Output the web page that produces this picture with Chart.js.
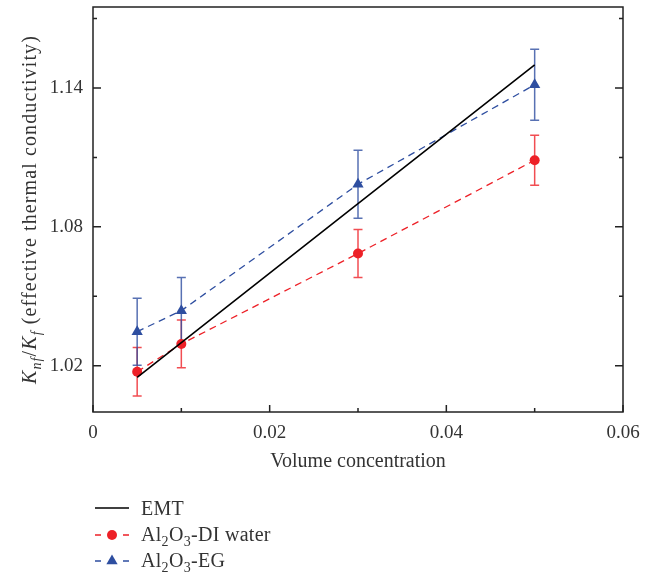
<!DOCTYPE html>
<html>
<head>
<meta charset="utf-8">
<script src="https://cdn.jsdelivr.net/npm/chart.js@4.4.1/dist/chart.umd.min.js"></script>
<style>
  body { margin: 0; background: #fff; }
  canvas { display: block; }
</style>
</head>
<body>
<canvas id="chart" width="655" height="575"></canvas>
<script>
// values
const concentration = [0.005, 0.01, 0.03, 0.05];
const emtValues = [1.015, 1.03, 1.09, 1.15];
const diWaterValues = [1.0174, 1.0294, 1.0685, 1.1088];
const diWaterErr = [0.0105, 0.0103, 0.0104, 0.0108];
const egValues = [1.0347, 1.0438, 1.0984, 1.1414];
const egErr = [0.0145, 0.0143, 0.0147, 0.0153];

const xTickLabels = ['0', '0.02', '0.04', '0.06'];
const yTickLabels = ['1.02', '1.08', '1.14'];
const yMinorTicks = [1.05, 1.11, 1.17];

const FONT = "'Liberation Serif', 'Times New Roman', serif";
const RED = 'rgb(237, 32, 39)';
const BLUE = 'rgb(46, 78, 160)';

function drawRich(ctx, parts, x, y, align, size, spacing) {
    size = size || 20;
    ctx.letterSpacing = (spacing || 0) + 'px';
    const fontOf = p => (p.italic ? 'italic ' : '') + (p.sub ? Math.round(size * 0.72) : size) + 'px ' + FONT;
    let total = 0;
    parts.forEach(p => { ctx.font = fontOf(p); total += ctx.measureText(p.t).width; });
    let cx = align === 'center' ? x - total / 2 : x;
    ctx.textAlign = 'left';
    ctx.textBaseline = 'alphabetic';
    parts.forEach(p => {
        ctx.font = fontOf(p);
        ctx.fillText(p.t, cx, y + (p.sub ? 5 : 0));
        cx += ctx.measureText(p.t).width;
    });
    ctx.letterSpacing = '0px';
}

const errorBars = {
    id: 'errorBars',
    beforeDatasetsDraw(chart) {
        const ctx = chart.ctx;
        const yScale = chart.scales.y;
        chart.data.datasets.forEach((ds, i) => {
            if (!ds.err) return;
            const meta = chart.getDatasetMeta(i);
            ctx.save();
            ctx.strokeStyle = ds.errColor;
            ctx.lineWidth = 1.5;
            meta.data.forEach((pt, j) => {
                const v = ds.data[j].y;
                const top = yScale.getPixelForValue(v + ds.err[j]);
                const bot = yScale.getPixelForValue(v - ds.err[j]);
                ctx.beginPath();
                ctx.moveTo(pt.x, top); ctx.lineTo(pt.x, bot);
                ctx.moveTo(pt.x - 4.5, top); ctx.lineTo(pt.x + 4.5, top);
                ctx.moveTo(pt.x - 4.5, bot); ctx.lineTo(pt.x + 4.5, bot);
                ctx.stroke();
            });
            ctx.restore();
        });
    }
};

const frameAndText = {
    id: 'frameAndText',
    afterDraw(chart) {
        const ctx = chart.ctx;
        const a = chart.chartArea;
        const xs = chart.scales.x, ys = chart.scales.y;
        ctx.save();
        ctx.strokeStyle = '#222';
        ctx.lineWidth = 1.5;
        ctx.strokeRect(a.left, a.top, a.right - a.left, a.bottom - a.top);

        // inward ticks
        ctx.beginPath();
        ys.ticks.forEach(t => {
            const y = ys.getPixelForValue(t.value);
            const len = yTickLabels.includes(t.value.toFixed(2)) ? 8 : 4;
            ctx.moveTo(a.left, y); ctx.lineTo(a.left + len, y);
            ctx.moveTo(a.right, y); ctx.lineTo(a.right - len, y);
        });
        xs.ticks.forEach(t => {
            const x = xs.getPixelForValue(t.value);
            const len = xTickLabels.includes(String(Number(t.value.toFixed(2)))) ? 7 : 4;
            ctx.moveTo(x, a.bottom); ctx.lineTo(x, a.bottom - len);
        });
        ctx.stroke();

        ctx.fillStyle = '#333';
        // x title
        drawRich(ctx, [{ t: 'Volume concentration' }], (a.left + a.right) / 2, 467, 'center', 20);

        // y title
        ctx.save();
        ctx.translate(36, (a.top + a.bottom) / 2);
        ctx.rotate(-Math.PI / 2);
        drawRich(ctx, [
            { t: 'K', italic: true }, { t: 'nf', italic: true, sub: true },
            { t: '/' },
            { t: 'K', italic: true }, { t: 'f', italic: true, sub: true },
            { t: ' (effective thermal conductivity)' }
        ], 0, 0, 'center', 20, 1.1);
        ctx.restore();

        // legend
        const rows = [
            { ds: chart.data.datasets[0], y: 508, base: 515, parts: [{ t: 'EMT' }] },
            { ds: chart.data.datasets[1], y: 535, base: 541, parts: [{ t: 'Al' }, { t: '2', sub: true }, { t: 'O' }, { t: '3', sub: true }, { t: '-DI water' }] },
            { ds: chart.data.datasets[2], y: 561, base: 567, parts: [{ t: 'Al' }, { t: '2', sub: true }, { t: 'O' }, { t: '3', sub: true }, { t: '-EG' }] }
        ];
        rows.forEach(r => {
            ctx.save();
            ctx.strokeStyle = r.ds.borderColor;
            ctx.lineWidth = r.ds.borderWidth;
            ctx.beginPath();
            if (r.ds.borderDash) {
                ctx.moveTo(95, r.y); ctx.lineTo(101, r.y);
                ctx.moveTo(123, r.y); ctx.lineTo(129, r.y);
            } else {
                ctx.moveTo(95, r.y); ctx.lineTo(129, r.y);
            }
            ctx.stroke();
            ctx.restore();
            if (r.ds.pointRadius > 0) {
                ctx.save();
                ctx.fillStyle = r.ds.pointBackgroundColor;
                ctx.strokeStyle = r.ds.pointBackgroundColor;
                Chart.helpers.drawPoint(ctx, {
                    pointStyle: r.ds.pointStyle, radius: r.ds.pointRadius, rotation: 0, borderWidth: 0
                }, 112, r.y);
                ctx.restore();
            }
            ctx.fillStyle = '#333';
            drawRich(ctx, r.parts, 141, r.base, 'left', 20, 0.3);
        });
        ctx.restore();
    }
};

const toPoints = vals => concentration.map((c, i) => ({ x: c, y: vals[i] }));

new Chart(document.getElementById('chart'), {
    type: 'scatter',
    data: {
        datasets: [{
            label: 'EMT',
            data: toPoints(emtValues),
            showLine: true,
            borderColor: '#000',
            borderWidth: 1.6,
            pointRadius: 0
        }, {
            label: 'Al₂O₃-DI water',
            data: toPoints(diWaterValues),
            err: diWaterErr,
            errColor: 'rgba(237, 32, 39, 0.8)',
            showLine: true,
            borderColor: RED,
            borderWidth: 1.3,
            borderDash: [7, 5],
            pointStyle: 'circle',
            pointRadius: 5,
            pointBackgroundColor: RED,
            pointBorderWidth: 0
        }, {
            label: 'Al₂O₃-EG',
            data: toPoints(egValues),
            err: egErr,
            errColor: 'rgba(46, 78, 160, 0.8)',
            showLine: true,
            borderColor: BLUE,
            borderWidth: 1.3,
            borderDash: [7, 5],
            pointStyle: 'triangle',
            pointRadius: 6.5,
            pointBackgroundColor: BLUE,
            pointBorderWidth: 0
        }]
    },
    options: {
        responsive: false,
        animation: false,
        layout: { padding: { top: 7, right: 32, left: 0, bottom: 0 } },
        plugins: { legend: { display: false }, tooltip: { enabled: false } },
        scales: {
            x: {
                type: 'linear',
                min: 0,
                max: 0.06,
                grid: { display: false, drawTicks: false },
                border: { display: false },
                afterFit: s => { s.height = 163; s.paddingLeft = 0; s.paddingRight = 0; },
                ticks: {
                    stepSize: 0.01,
                    padding: 10,
                    maxRotation: 0,
                    autoSkip: false,
                    color: '#333',
                    font: { family: FONT, size: 19 },
                    callback: v => {
                        const s = String(Number(v.toFixed(2)));
                        return xTickLabels.includes(s) ? s : '';
                    }
                }
            },
            y: {
                min: 1.0,
                max: 1.175,
                grid: { display: false, drawTicks: false },
                border: { display: false },
                afterFit: s => { s.width = 93; s.paddingTop = 0; s.paddingBottom = 0; },
                afterBuildTicks: s => {
                    s.ticks = yTickLabels.map(Number).concat(yMinorTicks)
                        .sort((p, q) => p - q).map(v => ({ value: v }));
                },
                ticks: {
                    padding: 10,
                    autoSkip: false,
                    color: '#333',
                    font: { family: FONT, size: 19 },
                    callback: v => {
                        const s = v.toFixed(2);
                        return yTickLabels.includes(s) ? s : '';
                    }
                }
            }
        }
    },
    plugins: [errorBars, frameAndText]
});
</script>
</body>
</html>
